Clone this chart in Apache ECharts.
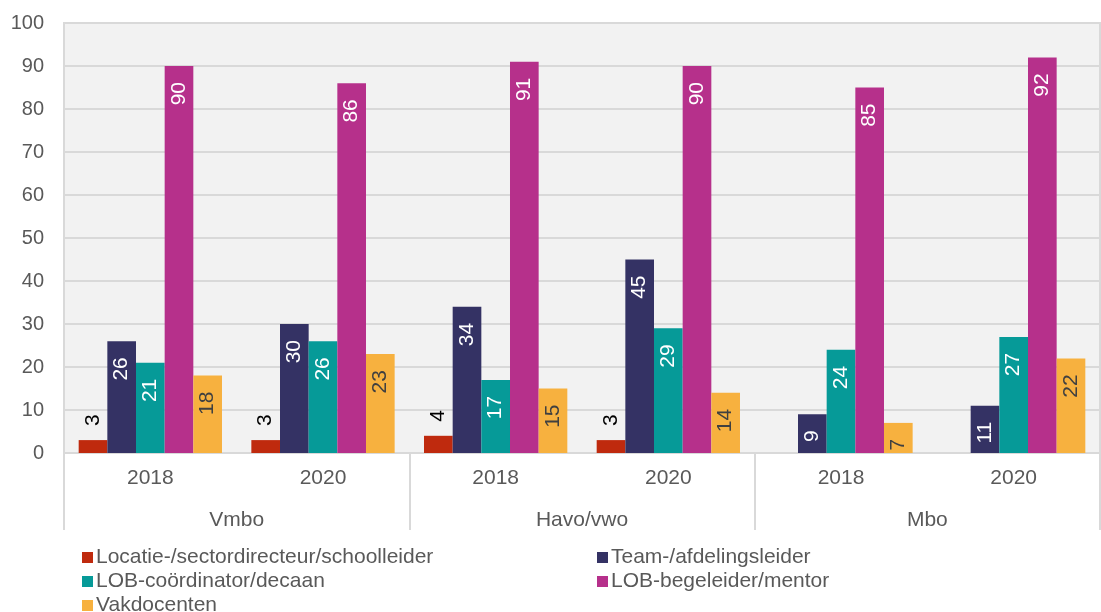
<!DOCTYPE html>
<html>
<head>
<meta charset="utf-8">
<script src="https://cdn.jsdelivr.net/npm/echarts@6/dist/echarts.min.js"></script>
<style>
html,body{margin:0;padding:0;background:#fff;}
#c{width:1101px;height:612px;}
</style>
</head>
<body>
<div id="c"></div>
<script>
const years = ['2018','2020','2018','2020','2018','2020'];
const groups = ['Vmbo','Havo/vwo','Mbo'];
const yTicks = [0,10,20,30,40,50,60,70,80,90,100];
const seriesNames = ['Locatie-/sectordirecteur/schoolleider','Team-/afdelingsleider','LOB-coördinator/decaan','LOB-begeleider/mentor','Vakdocenten'];
const locatie = [3,3,4,3,null,null];
const team = [26,30,34,45,9,11];
const lobCoord = [21,26,17,29,24,27];
const lobBegel = [90,86,91,90,85,92];
const vakdocenten = [18,23,15,14,7,22];
const colors = ['#bf2a0e','#343264','#069a98','#b6308b','#f7b13f'];

const FONT = '"Liberation Sans", Arial, sans-serif';
const TXT = '#595959';
const FS = 21;

function bar(i, data, label){
  return {
    name: seriesNames[i], type:'bar', xAxisIndex:0, data:data,
    barGap:'0%', barCategoryGap:'17%',
    itemStyle:{color:colors[i]},
    label: label
  };
}
const insideLbl = (col)=>({show:true, position:'insideTop', rotate:90, align:'right', verticalAlign:'middle', distance:16, color:col, fontSize:FS, fontFamily:FONT});

// legend placement: [series index, left, top]
const legendSlots = [[0,82,547],[2,82,571],[4,82,595],[1,597,547],[3,597,571]];
const legends = legendSlots.map(s=>({
  data:[seriesNames[s[0]]], orient:'horizontal', left:s[1], top:s[2], padding:0,
  itemWidth:11, itemHeight:11, icon:'rect',
  textStyle:{color:TXT, fontSize:FS, fontFamily:FONT, padding:[0,0,0,-2]}
}));

const chart = echarts.init(document.getElementById('c'), null, {renderer:'canvas'});
chart.setOption({
  animation:false,
  textStyle:{fontFamily:FONT},
  grid:{left:64, right:1, top:23, bottom:159, show:true, backgroundColor:'#f2f2f2', borderColor:'#d9d9d9', borderWidth:2, containLabel:false},
  legend:legends,
  xAxis:[
    {type:'category', data:years, position:'bottom',
     axisLine:{show:true, lineStyle:{color:'#d9d9d9', width:2}},
     axisTick:{show:false},
     axisLabel:{color:TXT, fontSize:FS, fontFamily:FONT, margin:15, interval:0}},
    {type:'category', data:groups, position:'bottom',
     axisLine:{show:false},
     axisTick:{show:true, length:77, interval:0, lineStyle:{color:'#d9d9d9', width:2}},
     axisLabel:{color:TXT, fontSize:FS, fontFamily:FONT, margin:57, interval:0}}
  ],
  yAxis:{type:'value', min:yTicks[0], max:yTicks[yTicks.length-1], interval:10,
    axisLine:{show:false}, axisTick:{show:false},
    splitLine:{lineStyle:{color:'#d9d9d9', width:2}},
    axisLabel:{color:TXT, fontSize:20, fontFamily:FONT, margin:20}},
  series:[
    bar(0, locatie, {show:true, position:'top', rotate:90, align:'left', verticalAlign:'middle', distance:14, color:'#000', fontSize:FS, fontFamily:FONT}),
    bar(1, team, insideLbl('#ffffff')),
    bar(2, lobCoord, insideLbl('#ffffff')),
    bar(3, lobBegel, insideLbl('#ffffff')),
    bar(4, vakdocenten, insideLbl('#404040'))
  ]
});
</script>
</body>
</html>
